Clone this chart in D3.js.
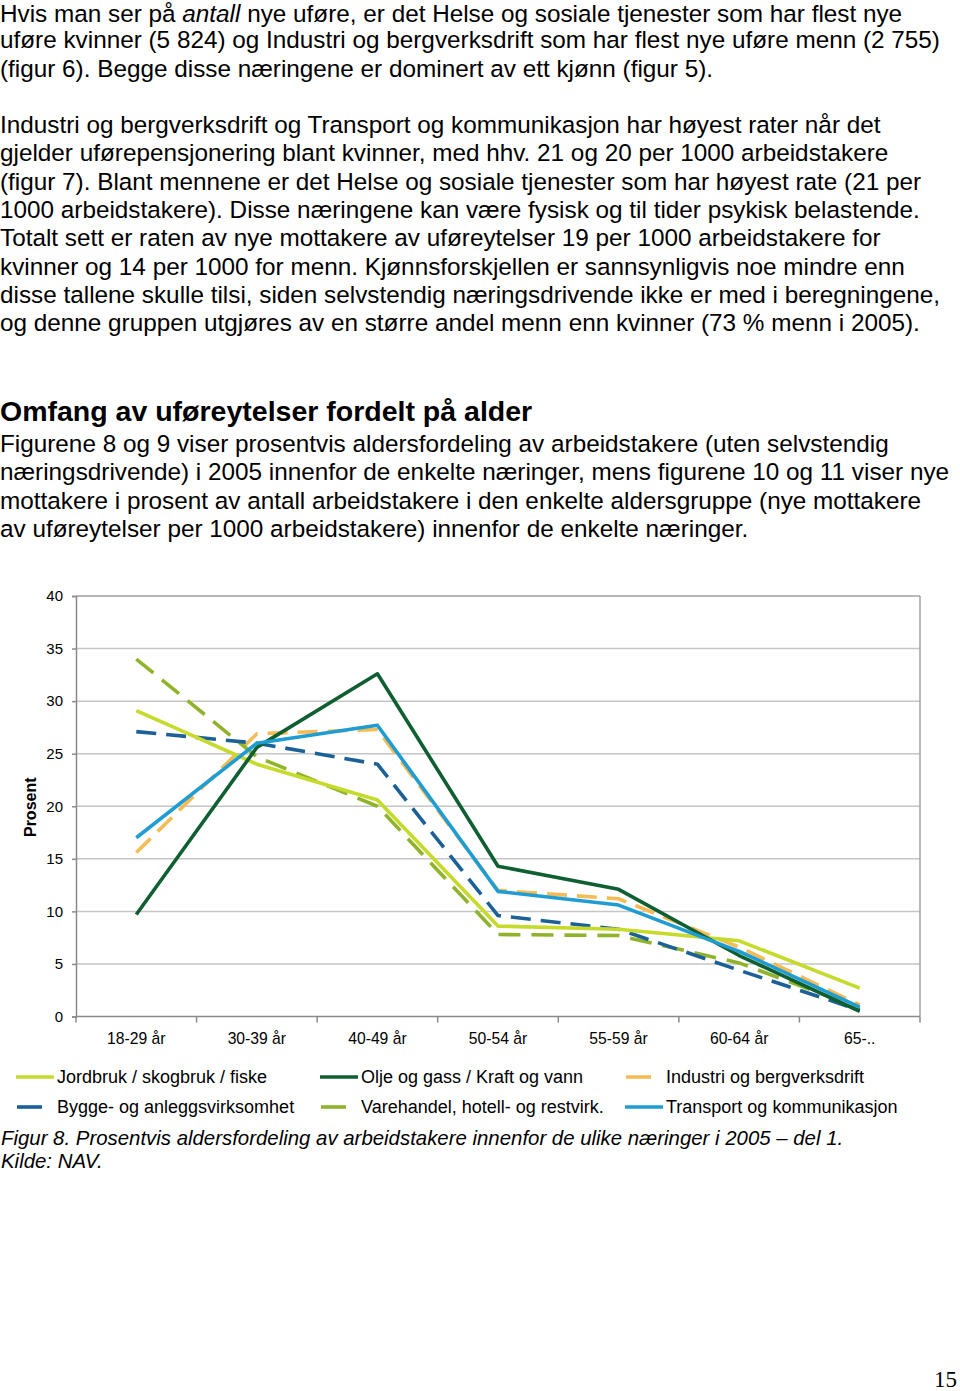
<!DOCTYPE html>
<html><head><meta charset="utf-8">
<script src="https://cdn.jsdelivr.net/npm/d3@7"></script>
<style>
html,body{margin:0;padding:0;background:#fff;}
svg{display:block;}
text{font-family:"Liberation Sans",Arial,Helvetica,sans-serif;}
</style></head>
<body>
<svg id="page" width="960" height="1391"></svg>
<script>
// ---------- DATA ----------
const categories = ["18-29 år","30-39 år","40-49 år","50-54 år","55-59 år","60-64 år","65-.."];
const yTicks = [0,5,10,15,20,25,30,35,40];
const seriesNames = ["Jordbruk / skogbruk / fiske","Olje og gass / Kraft og vann","Industri og bergverksdrift",
  "Bygge- og anleggsvirksomhet","Varehandel, hotell- og restvirk.","Transport og kommunikasjon"];
const jordbruk   = [29.1, 24.0, 20.6, 8.6, 8.3, 7.2, 2.7];
const oljeGass   = [9.7, 25.6, 32.6, 14.3, 12.1, 5.8, 0.5];
const industri   = [15.6, 26.9, 27.3, 12.0, 11.2, 6.6, 1.1];
const bygge      = [27.1, 26.0, 24.0, 9.6, 8.3, 4.4, 0.6];
const varehandel = [34.0, 24.7, 20.0, 7.8, 7.7, 5.1, 0.8];
const transport  = [17.0, 26.0, 27.7, 11.9, 10.6, 6.2, 0.9];

const paragraph1 = [
  [["Hvis man ser på ",false],["antall",true],[" nye uføre, er det Helse og sosiale tjenester som har flest nye",false]],
  [["uføre kvinner (5 824) og Industri og bergverksdrift som har flest nye uføre menn (2 755)",false]],
  [["(figur 6). Begge disse næringene er dominert av ett kjønn (figur 5).",false]]
];
const paragraph2 = [
  "Industri og bergverksdrift og Transport og kommunikasjon har høyest rater når det",
  "gjelder uførepensjonering blant kvinner, med hhv. 21 og 20 per 1000 arbeidstakere",
  "(figur 7). Blant mennene er det Helse og sosiale tjenester som har høyest rate (21 per",
  "1000 arbeidstakere). Disse næringene kan være fysisk og til tider psykisk belastende.",
  "Totalt sett er raten av nye mottakere av uføreytelser 19 per 1000 arbeidstakere for",
  "kvinner og 14 per 1000 for menn. Kjønnsforskjellen er sannsynligvis noe mindre enn",
  "disse tallene skulle tilsi, siden selvstendig næringsdrivende ikke er med i beregningene,",
  "og denne gruppen utgjøres av en større andel menn enn kvinner (73 % menn i 2005)."
];
const heading = "Omfang av uføreytelser fordelt på alder";
const paragraph3 = [
  "Figurene 8 og 9 viser prosentvis aldersfordeling av arbeidstakere (uten selvstendig",
  "næringsdrivende) i 2005 innenfor de enkelte næringer, mens figurene 10 og 11 viser nye",
  "mottakere i prosent av antall arbeidstakere i den enkelte aldersgruppe (nye mottakere",
  "av uføreytelser per 1000 arbeidstakere) innenfor de enkelte næringer."
];
const caption = ["Figur 8. Prosentvis aldersfordeling av arbeidstakere innenfor de ulike næringer i 2005 – del 1.","Kilde: NAV."];
const yTitle = "Prosent";
const pageNo = "15";

// ---------- STYLES ----------
const seriesData = [jordbruk, oljeGass, industri, bygge, varehandel, transport];
const colors = ["#c6da2c","#0f5f32","#f5bb55","#1b6198","#8fb42c","#1f9dd3"];
const dashes = [null, null, "20,10", "20,10", "22,11", null];
const drawOrder = [2, 4, 3, 0, 1, 5];

const svg = d3.select("#page");
const bodySize = 24.3, lh = 28.3;

paragraph1.forEach((line,i)=>{
  const t = svg.append("text").attr("x",0).attr("y",i===0?22:20+i*lh).attr("font-size",bodySize).attr("fill","#000");
  line.forEach(([s,it])=>t.append("tspan").text(s).attr("font-style",it?"italic":"normal"));
});
paragraph2.forEach((s,i)=>{
  svg.append("text").attr("x",0).attr("y",133+i*lh).attr("font-size",bodySize).text(s);
});
svg.append("text").attr("x",0).attr("y",421).attr("font-size",28.5).attr("font-weight","bold").text(heading);
paragraph3.forEach((s,i)=>{
  svg.append("text").attr("x",0).attr("y",452+i*lh).attr("font-size",bodySize).text(s);
});

// ---------- CHART ----------
const pLeft=76, pRight=920, pTop=596, pBottom=1016.5;
const x = d3.scaleBand().domain(categories).range([pLeft,pRight]).padding(0);
const y = d3.scaleLinear().domain([0,40]).range([pBottom,pTop]);
const cx = c => x(c)+x.bandwidth()/2;

const g = svg.append("g");
g.selectAll("line.grid").data(yTicks.filter(d=>d>0)).enter().append("line")
  .attr("x1",pLeft).attr("x2",pRight).attr("y1",d=>y(d)).attr("y2",d=>y(d))
  .attr("stroke",d=>d===40?"#a0a0a0":"#c6c6c6").attr("stroke-width",1.5);
g.append("line").attr("x1",pRight).attr("x2",pRight).attr("y1",pTop).attr("y2",pBottom).attr("stroke","#a0a0a0").attr("stroke-width",1.5);

const yAxis = d3.axisLeft(y).tickValues(yTicks).tickSize(4).tickPadding(9);
const ya = g.append("g").attr("transform",`translate(${pLeft},0)`).call(yAxis);
ya.select(".domain").attr("stroke","#8a8a8a").attr("stroke-width",1.5);
ya.selectAll(".tick line").attr("stroke","#8a8a8a").attr("stroke-width",1.5);
ya.selectAll(".tick text").attr("font-size",15).attr("fill","#000").attr("font-family","Liberation Sans, Arial, sans-serif");

const xAxis = d3.axisBottom(x).tickSize(0).tickPadding(16);
const xa = g.append("g").attr("transform",`translate(0,${pBottom})`).call(xAxis);
xa.select(".domain").remove();
xa.selectAll(".tick text").attr("font-size",15.7).attr("fill","#000").attr("font-family","Liberation Sans, Arial, sans-serif");
g.append("line").attr("x1",pLeft).attr("x2",pRight).attr("y1",pBottom).attr("y2",pBottom).attr("stroke","#8a8a8a").attr("stroke-width",1.5);
const bounds = categories.map(c=>x(c)).concat([pRight]);
g.selectAll("line.xt").data(bounds).enter().append("line")
  .attr("x1",d=>d).attr("x2",d=>d).attr("y1",pBottom).attr("y2",pBottom+6)
  .attr("stroke","#8a8a8a").attr("stroke-width",1.5);

svg.append("text").attr("transform",`translate(36,${(pTop+pBottom)/2+1}) rotate(-90)`)
  .attr("text-anchor","middle").attr("font-size",16).attr("font-weight","bold").text(yTitle);

const lineGen = d3.line().x((d,i)=>cx(categories[i])).y(d=>y(d));
drawOrder.forEach(k=>{
  g.append("path").datum(seriesData[k]).attr("d",lineGen).attr("fill","none")
    .attr("stroke",colors[k]).attr("stroke-width",3.6)
    .attr("stroke-dasharray",dashes[k]).attr("stroke-linejoin","round");
});

const legPos = [[16,1077],[320,1077],[625,1077],[16,1107],[320,1107],[625,1107]];
seriesNames.forEach((nm,k)=>{
  const [lx,ly] = legPos[k];
  if(dashes[k]){
    g.append("line").attr("x1",lx+1).attr("x2",lx+26).attr("y1",ly).attr("y2",ly)
      .attr("stroke",colors[k]).attr("stroke-width",3.6);
  } else {
    g.append("line").attr("x1",lx).attr("x2",lx+38).attr("y1",ly).attr("y2",ly)
      .attr("stroke",colors[k]).attr("stroke-width",3.6);
  }
  g.append("text").attr("x",lx+41).attr("y",ly+6).attr("font-size",18).text(nm);
});

caption.forEach((s,i)=>{
  svg.append("text").attr("x",1).attr("y",1145+i*23).attr("font-size",20.4).attr("font-style","italic").text(s);
});
svg.append("text").attr("x",957).attr("y",1387).attr("text-anchor","end").attr("font-size",23)
  .style("font-family","'Liberation Serif', serif").text(pageNo);
</script>
</body></html>
